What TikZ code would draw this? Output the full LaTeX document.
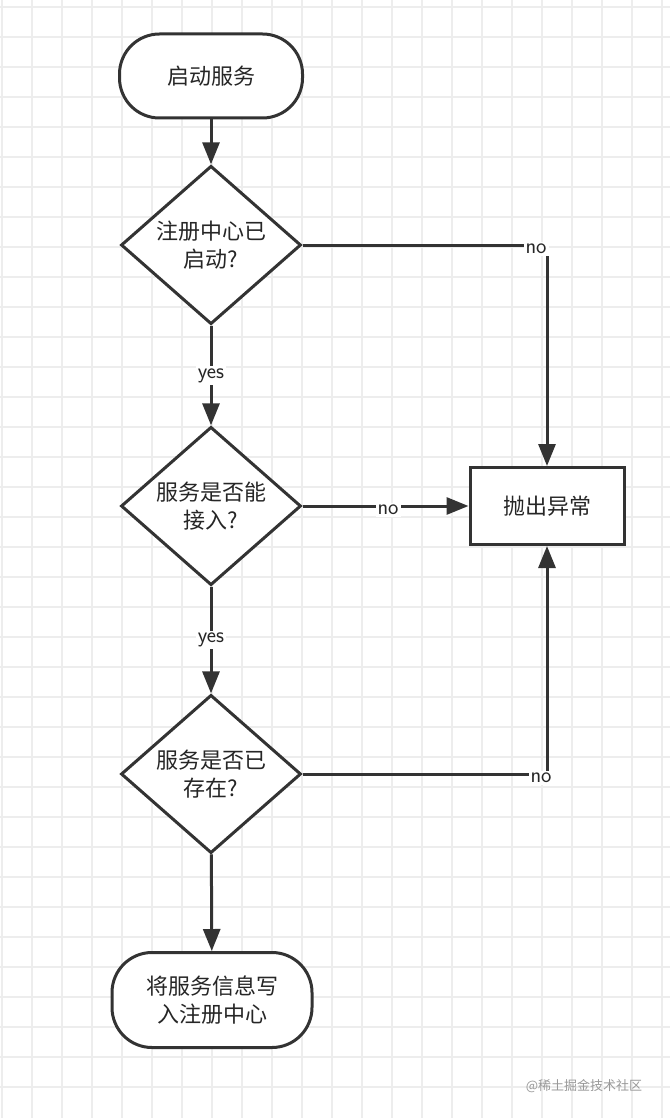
\documentclass[tikz,border=0pt]{standalone}
\usepackage{fontspec}
\newfontfamily\cjk{Noto Sans CJK SC}
\usetikzlibrary{shapes.geometric,arrows.meta}
\begin{document}
\begin{tikzpicture}[x=1pt,y=-1pt,
  line width=3pt,
  every node/.style={font=\cjk\fontsize{22}{28}\selectfont,text=black!85},
  term/.style={draw=black!80,fill=white,rounded corners=40pt,inner sep=0pt},
  dec/.style={draw=black!80,fill=white,diamond,minimum width=180pt,minimum height=140pt,inner sep=0pt,align=center},
  box/.style={draw=black!80,fill=white,minimum width=154pt,minimum height=77pt},
  arr/.style={draw=black!80,-{Triangle[length=22pt,width=17pt]}},
  ln/.style={draw=black!80},
  lab/.style={fill=white,inner sep=2pt,font=\sffamily\fontsize{22}{26}\selectfont}]
\useasboundingbox (0,0) rectangle (670,1118);
\fill[white] (0,0) rectangle (670,1118);
\foreach \x in {2,32,...,662} \draw[line width=1.5pt,black!7] (\x,0) -- (\x,1118);
\foreach \y in {7,37,...,1110} \draw[line width=1.5pt,black!7] (0,\y) -- (670,\y);
\node[term,minimum width=183pt,minimum height=84pt] (s) at (211,76) {启动服务};
\node[dec] (d1) at (211,245) {注册中心已\\启动?};
\node[dec] (d2) at (211,506) {服务是否能\\接入?};
\node[dec] (d3) at (211,774) {服务是否已\\存在?};
\node[term,minimum width=200pt,minimum height=95pt,align=center] (e) at (212,1000) {将服务信息写\\入注册中心};
\node[box] (x) at (547,506) {抛出异常};
\coordinate (c1) at (547,245);
\coordinate (c3) at (547,774);
\draw[arr] (s) -- (d1);
\draw[arr] (d1) -- node[lab]{yes} (d2);
\draw[arr] (d2) -- node[lab]{yes} (d3);
\draw[arr] (d3) -- (e);
\draw[ln] (d1.east) -- (c1);
\draw[arr] (c1) -- (x.north);
\node[lab] at (536,249) {no};
\draw[arr] (d2.east) -- (x.west);
\node[lab] at (388,510) {no};
\draw[ln] (d3.east) -- (c3);
\draw[arr] (c3) -- (x.south);
\node[lab] at (541,778) {no};
\node[font=\cjk\fontsize{13}{15}\selectfont,text=black!40] at (584,1086) {@稀土掘金技术社区};
\end{tikzpicture}
\end{document}
